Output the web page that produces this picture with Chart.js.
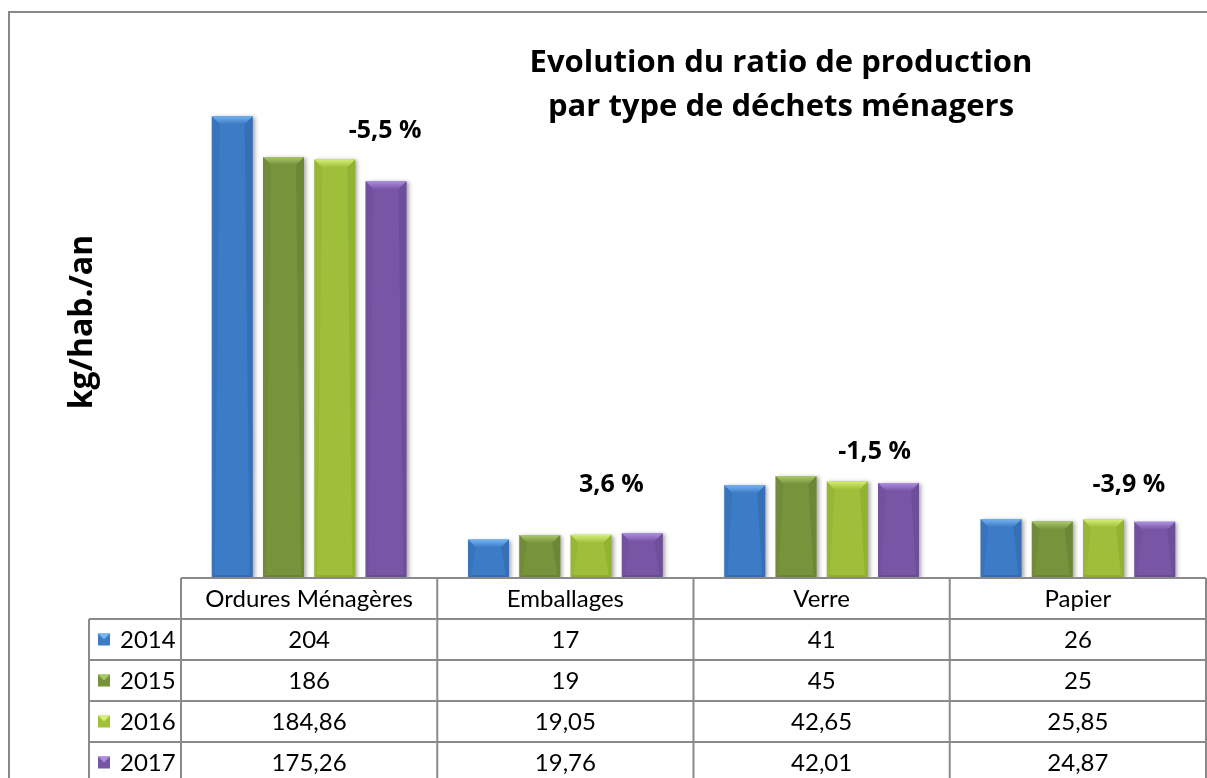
<!DOCTYPE html>
<html>
<head>
<meta charset="utf-8">
<script src="https://cdn.jsdelivr.net/npm/chart.js@4.4.1/dist/chart.umd.min.js"></script>
<style>
  html, body { margin: 0; padding: 0; background: #fff; }
  #wrap { width: 1207px; height: 778px; position: relative; }
</style>
</head>
<body>
<div id="wrap"><canvas id="chart" width="1207" height="778"></canvas></div>
<script>
const categories = ["Ordures Ménagères", "Emballages", "Verre", "Papier"];
const years = ["2014", "2015", "2016", "2017"];
const values2014 = [204, 17, 41, 26];
const values2015 = [186, 19, 45, 25];
const values2016 = [184.86, 19.05, 42.65, 25.85];
const values2017 = [175.26, 19.76, 42.01, 24.87];
const changeLabels = ["-5,5 %", "3,6 %", "-1,5 %", "-3,9 %"];

// where the change labels sit (value on y axis, shift from category centre)
const changeAnchorY = [197.5, 41, 55.6, 41];
const changeShiftX = [76, 46, 53, 51];

const FONT = "Lato, 'Open Sans', sans-serif";
const BOLD = "'Open Sans', Lato, sans-serif";

const palette = [
  { main: "#3c7bc6", light: "#74b4f2", dark: "#2a5a96" },
  { main: "#77933c", light: "#a9c86a", dark: "#5a722a" },
  { main: "#9fbf3b", light: "#d4ef75", dark: "#7c9a25" },
  { main: "#7856a6", light: "#ad8fe0", dark: "#5a3f82" }
];

function fmt(v) {
  return String(v).replace(".", ",");
}

const allSeries = [values2014, values2015, values2016, values2017];

function bevel(ctx, x0, y0, x1, y1, col) {
  const w = x1 - x0;
  const b = Math.min(8, w / 2, (y1 - y0) / 2);
  // top face
  const g = ctx.createLinearGradient(0, y0, 0, y0 + b);
  g.addColorStop(0, col.light);
  g.addColorStop(1, col.main);
  ctx.fillStyle = g;
  ctx.beginPath();
  ctx.moveTo(x0, y0); ctx.lineTo(x1, y0);
  ctx.lineTo(x1 - b, y0 + b); ctx.lineTo(x0 + b, y0 + b);
  ctx.closePath(); ctx.fill();
  // sides
  const s = Math.min(3, b);
  ctx.globalAlpha = 0.35;
  ctx.fillStyle = col.dark;
  ctx.beginPath();
  ctx.moveTo(x1, y0); ctx.lineTo(x1, y1); ctx.lineTo(x1 - s, y1 - s); ctx.lineTo(x1 - b, y0 + b);
  ctx.closePath(); ctx.fill();
  ctx.globalAlpha = 0.2;
  ctx.beginPath();
  ctx.moveTo(x0, y0); ctx.lineTo(x0, y1); ctx.lineTo(x0 + s, y1 - s); ctx.lineTo(x0 + b, y0 + b);
  ctx.closePath(); ctx.fill();
  // bottom
  ctx.globalAlpha = 0.45;
  ctx.beginPath();
  ctx.moveTo(x0, y1); ctx.lineTo(x1, y1); ctx.lineTo(x1 - s, y1 - s); ctx.lineTo(x0 + s, y1 - s);
  ctx.closePath(); ctx.fill();
  ctx.globalAlpha = 1;
}

const decor = {
  id: "decor",
  beforeDatasetsDraw(chart) {
    const ctx = chart.ctx;
    ctx.save();
    ctx.shadowColor = "rgba(0,0,0,0.35)";
    ctx.shadowBlur = 4;
    ctx.shadowOffsetX = 2;
    ctx.shadowOffsetY = 1;
  },
  afterDatasetsDraw(chart) {
    const ctx = chart.ctx;
    ctx.restore();
    chart.data.datasets.forEach((ds, di) => {
      const meta = chart.getDatasetMeta(di);
      meta.data.forEach((bar) => {
        const p = bar.getProps(["x", "y", "base", "width"], true);
        bevel(ctx, p.x - p.width / 2, p.y, p.x + p.width / 2, p.base, palette[di]);
      });
    });
  },
  afterDraw(chart) {
    const ctx = chart.ctx;
    const area = chart.chartArea;
    const xs = chart.scales.x;
    const ys = chart.scales.y;
    const colW = (area.right - area.left) / categories.length;

    ctx.save();
    // outer frame
    ctx.strokeStyle = "#878787";
    ctx.lineWidth = 2;
    ctx.beginPath();
    ctx.moveTo(9, 800); ctx.lineTo(9, 12); ctx.lineTo(1220, 12);
    ctx.stroke();

    // title
    ctx.fillStyle = "#000";
    ctx.textAlign = "center";
    ctx.textBaseline = "alphabetic";
    ctx.font = "bold 31px " + BOLD;
    ctx.fillText("Evolution du ratio de production", 781, 72);
    ctx.fillText("par type de déchets ménagers", 781, 116);

    // axis title
    ctx.save();
    ctx.translate(92, 322);
    ctx.rotate(-Math.PI / 2);
    ctx.font = "bold 32px " + BOLD;
    ctx.fillText("kg/hab./an", 0, 0);
    ctx.restore();

    // change labels
    ctx.font = "bold 25px " + BOLD;
    ctx.textBaseline = "middle";
    changeLabels.forEach((t, i) => {
      ctx.fillText(t, xs.getPixelForValue(i) + changeShiftX[i], ys.getPixelForValue(changeAnchorY[i]));
    });

    // data table
    const top = area.bottom;
    const rowH = 41;
    const legL = 89;
    ctx.strokeStyle = "#8a8a8a";
    ctx.lineWidth = 2;
    ctx.beginPath();
    ctx.moveTo(area.left, top); ctx.lineTo(area.right, top);
    for (let r = 1; r <= years.length; r++) {
      const y = top + r * rowH;
      ctx.moveTo(legL, y); ctx.lineTo(area.right, y);
    }
    ctx.moveTo(legL, top + rowH); ctx.lineTo(legL, 800);
    for (let c = 0; c <= categories.length; c++) {
      const x = area.left + c * colW;
      ctx.moveTo(x, top); ctx.lineTo(x, 800);
    }
    ctx.stroke();

    ctx.fillStyle = "#000";
    ctx.font = "24px " + FONT;
    ctx.textAlign = "center";
    ctx.textBaseline = "middle";
    categories.forEach((c, i) => {
      ctx.fillText(c, xs.getPixelForValue(i), top + rowH / 2 + 1);
    });
    years.forEach((yr, r) => {
      const cy = top + (r + 1.5) * rowH + 1;
      allSeries[r].forEach((v, i) => {
        ctx.fillStyle = "#000";
        ctx.textAlign = "center";
        ctx.fillText(fmt(v), xs.getPixelForValue(i), cy);
      });
      // legend key
      const kx = 98, ky = cy - 7, ks = 12;
      ctx.fillStyle = palette[r].main;
      ctx.fillRect(kx, ky, ks, ks);
      ctx.fillStyle = palette[r].light;
      ctx.beginPath();
      ctx.moveTo(kx, ky); ctx.lineTo(kx + ks, ky); ctx.lineTo(kx + ks / 2, ky + ks / 2);
      ctx.closePath(); ctx.fill();
      ctx.fillStyle = "#000";
      ctx.textAlign = "left";
      ctx.fillText(yr, 120, cy);
    });
    ctx.restore();
  }
};

new Chart(document.getElementById("chart"), {
  type: "bar",
  data: {
    labels: categories,
    datasets: years.map((yr, i) => ({
      label: yr,
      data: allSeries[i],
      backgroundColor: palette[i].main,
      borderWidth: 0,
      categoryPercentage: 0.8,
      barPercentage: 0.8
    }))
  },
  options: {
    responsive: false,
    animation: false,
    layout: { padding: { left: 181, right: 1, top: 12, bottom: 200 } },
    plugins: { legend: { display: false }, tooltip: { enabled: false } },
    scales: {
      x: { display: false },
      y: { display: false, min: 0, max: 250 }
    }
  },
  plugins: [decor]
});
</script>
</body>
</html>
